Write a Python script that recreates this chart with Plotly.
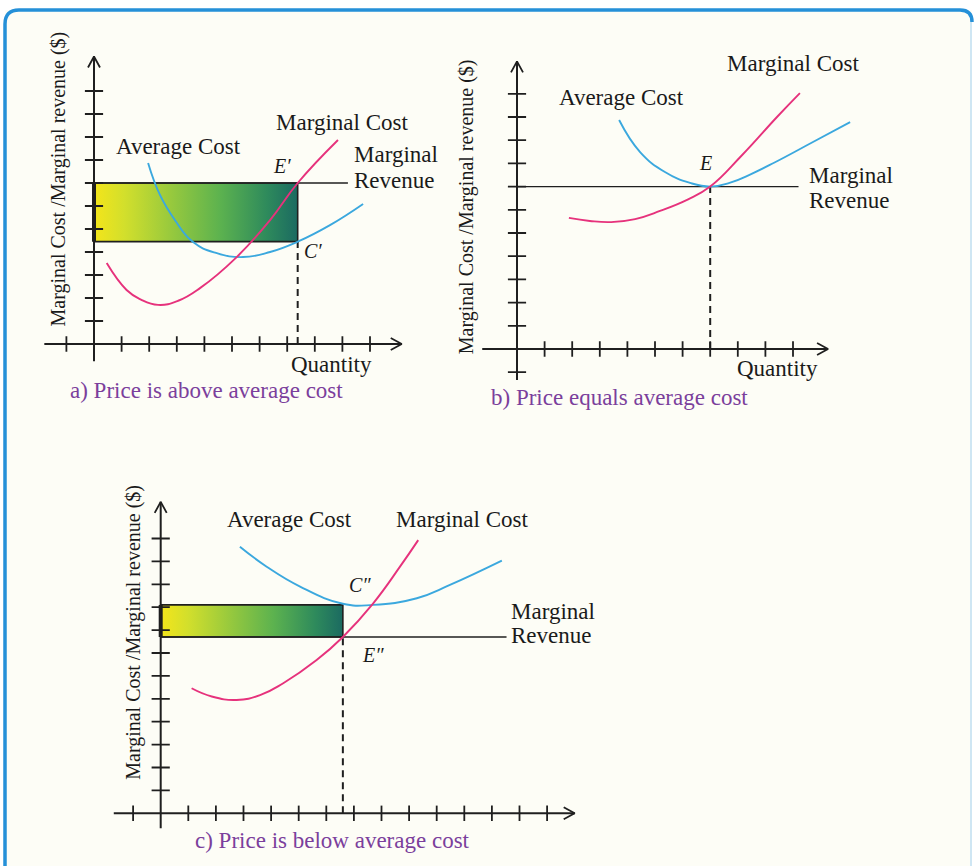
import plotly.graph_objects as go

W, H = 975, 866

# ---------------- data (in axis units: quantity ticks / price ticks) ----------------
# Panel a) Price is above average cost
a_xticks = [-1, 1, 2, 3, 4, 5, 6, 7, 8, 9, 10]
a_yticks = [1, 2, 3, 4, 5, 6, 7, 8, 9, 10, 11]
a_xspan = [-1.8, 11.15]
a_yspan = [-0.75, 12.5]
a_mr = 7.0
a_mr_end = 9.2
a_q = 7.38
a_ac_q = 4.45
a_ac_x = [1.96, 2.39, 2.93, 3.59, 4.42, 5.40, 6.38, 7.38, 8.55, 9.75]
a_ac_y = [7.87, 6.48, 5.39, 4.43, 3.96, 3.78, 4.00, 4.45, 5.17, 6.09]
a_mc_x = [0.46, 1.18, 1.70, 2.32, 3.05, 3.84, 5.17, 6.38, 7.38, 8.84]
a_mc_y = [3.52, 2.35, 1.93, 1.70, 1.88, 2.43, 3.78, 5.39, 7.00, 8.87]

# Panel b) Price equals average cost
b_xticks = [1, 2, 3, 4, 5, 6, 7, 8, 9, 10]
b_yticks = [-1, 1, 2, 3, 4, 5, 6, 7, 8, 9, 10, 11]
b_xspan = [-1.26, 11.27]
b_yspan = [-1.34, 12.4]
b_mr = 7.0
b_mr_end = 10.2
b_q = 7.0
b_ac_x = [3.70, 4.46, 5.36, 6.27, 7.0, 7.70, 8.50, 9.35, 10.69, 12.07]
b_ac_y = [9.87, 8.49, 7.63, 7.16, 7.0, 7.16, 7.55, 8.05, 8.90, 9.78]
b_mc_x = [1.88, 2.64, 3.41, 4.28, 5.18, 6.20, 7.0, 8.15, 9.42, 10.25]
b_mc_y = [5.65, 5.52, 5.47, 5.60, 5.95, 6.45, 7.0, 8.35, 10.0, 11.03]

# Panel c) Price is below average cost
c_xticks = [-1, 1, 2, 3, 4, 5, 6, 7, 8, 9, 10, 11, 12, 13, 14]
c_yticks = [1, 2, 3, 4, 5, 6, 7, 8, 9, 10, 11, 12]
c_xspan = [-1.7, 15.0]
c_yspan = [-0.65, 13.6]
c_mr = 7.7
c_mr_end = 12.53
c_q = 6.6
c_ac_q = 9.1
c_ac_x = [2.87, 3.84, 5.05, 6.6, 7.70, 9.28, 10.48, 12.36]
c_ac_y = [11.64, 10.77, 9.90, 9.15, 9.10, 9.39, 9.97, 11.03]
c_mc_x = [1.12, 1.85, 2.75, 3.60, 4.44, 5.65, 6.6, 7.70, 8.67, 9.33]
c_mc_y = [5.46, 5.10, 4.95, 5.16, 5.68, 6.69, 7.7, 9.17, 10.77, 11.93]

# ---------------- styles ----------------
AX = "#1f1f1f"
MC_COL = "#e6327c"
AC_COL = "#3ba8de"
CAP_COL = "#7b3f9c"
FONT = "Liberation Serif"
LBL = 23
GRAD = [[0, "#f4e51a"], [0.15, "#d2df2c"], [0.4, "#92c73f"], [0.62, "#5cb24f"],
        [0.85, "#2e8a5c"], [1, "#1b6a61"]]

# panel geometry: origin pixel, unit sizes, axis ranges
panels = {
    "a": dict(ox=94, oy=344, ux=27.6, uy=23.0, xr=[-2.2, 12.0], yr=[-2.5, 13.0]),
    "b": dict(ox=517, oy=349, ux=27.6, uy=23.2, xr=[-2.2, 12.4], yr=[-2.6, 12.8]),
    "c": dict(ox=160.7, oy=813.3, ux=27.6, uy=22.9, xr=[-2.0, 15.5], yr=[-1.6, 14.0]),
}

fig = go.Figure()
layout_axes = {}
for i, key in enumerate(["a", "b", "c"], start=1):
    p = panels[key]
    xl = p["ox"] + p["xr"][0] * p["ux"]
    xh = p["ox"] + p["xr"][1] * p["ux"]
    yb = p["oy"] - p["yr"][0] * p["uy"]
    yt = p["oy"] - p["yr"][1] * p["uy"]
    sfx = "" if i == 1 else str(i)
    layout_axes["xaxis" + sfx] = dict(domain=[xl / W, xh / W], range=p["xr"], visible=False,
                                      anchor="y" + sfx, fixedrange=True)
    layout_axes["yaxis" + sfx] = dict(domain=[1 - yb / H, 1 - yt / H], range=p["yr"], visible=False,
                                      anchor="x" + sfx, fixedrange=True)
    p["xref"] = "x" + sfx
    p["yref"] = "y" + sfx


def add(tr, key):
    p = panels[key]
    tr.update(xaxis=p["xref"], yaxis=p["yref"], showlegend=False, hoverinfo="skip")
    fig.add_trace(tr)


def draw_axes(key, xticks, yticks, xspan, yspan):
    p = panels[key]
    ux, uy = p["ux"], p["uy"]
    add(go.Scatter(x=[xspan[0], xspan[1]], y=[0, 0], mode="lines",
                   line=dict(color=AX, width=2)), key)
    add(go.Scatter(x=[0, 0], y=[yspan[0], yspan[1]], mode="lines",
                   line=dict(color=AX, width=2)), key)
    # chevron heads
    L, Hh = 11, 6
    add(go.Scatter(x=[xspan[1] - L / ux, xspan[1], xspan[1] - L / ux],
                   y=[Hh / uy, 0, -Hh / uy], mode="lines",
                   line=dict(color=AX, width=1.8)), key)
    add(go.Scatter(x=[-Hh / ux, 0, Hh / ux],
                   y=[yspan[1] - L / uy, yspan[1], yspan[1] - L / uy], mode="lines",
                   line=dict(color=AX, width=1.8)), key)
    add(go.Scatter(x=xticks, y=[0] * len(xticks), mode="markers",
                   marker=dict(symbol="line-ns", size=11, line=dict(color=AX, width=1.8))), key)
    add(go.Scatter(x=[0] * len(yticks), y=yticks, mode="markers",
                   marker=dict(symbol="line-ew", size=13, line=dict(color=AX, width=1.8))), key)


def draw_rect(key, x0, x1, y0, y1):
    add(go.Scatter(x=[x0, x1, x1, x0, x0], y=[y0, y0, y1, y1, y0], mode="lines",
                   fill="toself",
                   fillgradient=dict(type="horizontal", colorscale=GRAD),
                   line=dict(color=AX, width=1.6)), key)
    add(go.Scatter(x=[x0, x0], y=[y0, y1], mode="lines", line=dict(color=AX, width=4)), key)


def curve(key, xs, ys, col):
    add(go.Scatter(x=xs, y=ys, mode="lines", line=dict(color=col, width=1.9, shape="spline",
                                                        smoothing=1.3)), key)


def hline(key, y, x0, x1):
    add(go.Scatter(x=[x0, x1], y=[y, y], mode="lines", line=dict(color=AX, width=1.4)), key)


def vdash(key, x, y1):
    add(go.Scatter(x=[x, x], y=[0, y1], mode="lines",
                   line=dict(color=AX, width=2, dash="7px,5px")), key)


annotations = []


def label(key, x, y, text, size=LBL, color="#1a1a1a", xanchor="center", yanchor="middle",
          angle=0):
    p = panels[key]
    annotations.append(dict(x=x, y=y, xref=p["xref"], yref=p["yref"], text=text,
                            showarrow=False, xanchor=xanchor, yanchor=yanchor, textangle=angle,
                            font=dict(family=FONT, size=size, color=color)))


YT = "Marginal Cost /Marginal revenue ($)"

# ---- panel a ----
draw_rect("a", 0, a_q, a_ac_q, a_mr)
hline("a", a_mr, 0, a_mr_end)
vdash("a", a_q, a_ac_q)
curve("a", a_ac_x, a_ac_y, AC_COL)
curve("a", a_mc_x, a_mc_y, MC_COL)
draw_axes("a", a_xticks, a_yticks, a_xspan, a_yspan)
label("a", 9.0, 9.62, "Marginal Cost")
label("a", 3.05, 8.58, "Average Cost")
label("a", 9.33, 8.22, "Marginal", xanchor="left")
label("a", 9.33, 7.13, "Revenue", xanchor="left")
label("a", 6.8, 7.75, "<i>E′</i>", size=20)
label("a", 7.95, 4.06, "<i>C′</i>", size=20)
label("a", 8.62, -0.87, "Quantity")
label("a", 4.06, -2.04, "a) Price is above average cost", color=CAP_COL)
label("a", -1.29, 7.17, YT, size=20, angle=-90)

# ---- panel b ----
hline("b", b_mr, 0, b_mr_end)
vdash("b", b_q, b_mr)
curve("b", b_ac_x, b_ac_y, AC_COL)
curve("b", b_mc_x, b_mc_y, MC_COL)
draw_axes("b", b_xticks, b_yticks, b_xspan, b_yspan)
label("b", 10.0, 12.31, "Marginal Cost")
label("b", 3.78, 10.85, "Average Cost")
label("b", 6.82, 8.0, "<i>E</i>", size=20)
label("b", 10.5, 7.5, "Marginal", xanchor="left")
label("b", 10.5, 6.42, "Revenue", xanchor="left")
label("b", 9.44, -0.83, "Quantity")
label("b", 3.71, -2.1, "b) Price equals average cost", color=CAP_COL)
label("b", -1.83, 6.13, YT, size=20, angle=-90)

# ---- panel c ----
draw_rect("c", 0, c_q, c_mr, c_ac_q)
hline("c", c_mr, 0, c_mr_end)
vdash("c", c_q, c_mr)
curve("c", c_ac_x, c_ac_y, AC_COL)
curve("c", c_mc_x, c_mc_y, MC_COL)
draw_axes("c", c_xticks, c_yticks, c_xspan, c_yspan)
label("c", 4.68, 12.84, "Average Cost")
label("c", 10.92, 12.84, "Marginal Cost")
label("c", 7.22, 9.97, "<i>C″</i>", size=20)
label("c", 7.70, 6.90, "<i>E″</i>", size=20)
label("c", 12.62, 8.80, "Marginal", xanchor="left")
label("c", 12.62, 7.76, "Revenue", xanchor="left")
label("c", 6.24, -1.17, "c) Price is below average cost", color=CAP_COL)
label("c", -0.99, 7.9, YT, size=20, angle=-90)


# ---------------- frame ----------------
def px(x, y):
    return f"{x / W:.5f},{1 - y / H:.5f}"


shapes = [
    dict(type="rect", xref="paper", yref="paper", x0=5 / W, x1=972 / W, y0=0, y1=1 - 10 / H,
         fillcolor="#fdfdf6", line=dict(width=0), layer="below"),
    dict(type="path", xref="paper", yref="paper",
         path=f"M{px(5, 866)} L{px(5, 24)} Q{px(5, 10)} {px(19, 10)} L{px(960, 10)} "
              f"Q{px(972, 10)} {px(972, 22)}",
         line=dict(color="#2590d8", width=3.5), layer="above"),
    dict(type="line", xref="paper", yref="paper", x0=971 / W, x1=971 / W, y0=0, y1=1 - 22 / H,
         line=dict(color="#cfe6f3", width=2), layer="below"),
]

fig.update_layout(
    width=W, height=H, margin=dict(l=0, r=0, t=0, b=0),
    paper_bgcolor="white", plot_bgcolor="rgba(0,0,0,0)",
    annotations=annotations, shapes=shapes, hovermode=False,
    **layout_axes,
)

fig.write_html("out.html", config={"displayModeBar": False},
               post_script="document.body.style.margin='0';document.body.style.overflow='hidden';")
